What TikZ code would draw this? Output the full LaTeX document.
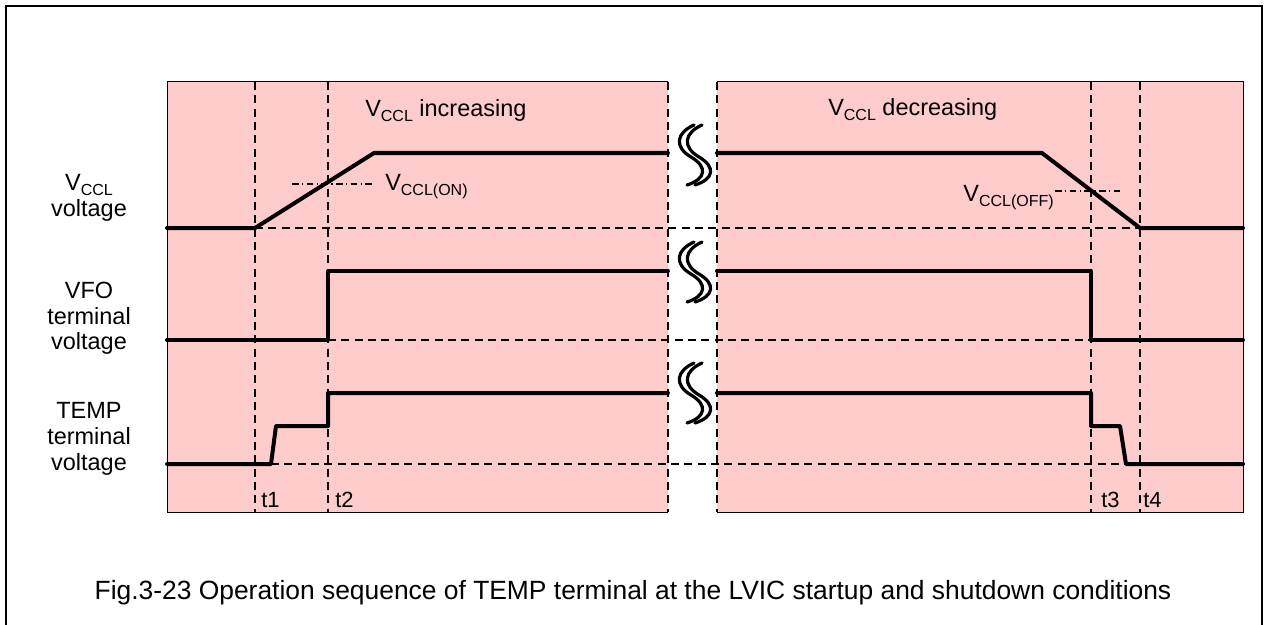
\documentclass[tikz,border=0pt]{standalone}
\usepackage{fontspec}
\setmainfont{Liberation Sans}
\definecolor{panelpink}{HTML}{FFCCCC}
\newcommand{\lowsub}[1]{\raisebox{-3.75pt}{\fontsize{12}{12}\selectfont #1}}
\begin{document}
\begin{tikzpicture}[x=0.75pt,y=-0.75pt,
  sig/.style={line width=3pt, line cap=round, line join=round},
  guide/.style={line width=0.9pt, dash pattern=on 6pt off 4pt},
  thr/.style={line width=0.9pt, dash pattern=on 5pt off 2.5pt on 1pt off 2.5pt},
  edge/.style={line width=0.75pt},
  lbl/.style={font=\fontsize{17.6}{20}\selectfont, inner sep=0pt},
  tlbl/.style={font=\fontsize{16.5}{18}\selectfont, inner sep=0pt, anchor=base west},
  figcap/.style={font=\fontsize{19.8}{23}\selectfont, inner sep=0pt, anchor=base},
  brk/.pic={
    \draw[line width=2.4pt, line cap=round]
      (2,-30) .. controls (-16,-22) and (-18,-8) .. (-1,2)
              .. controls (16,12) and (14,24) .. (-5,30);
    \draw[line width=2.4pt, line cap=round]
      (10,-30) .. controls (-8,-22) and (-10,-8) .. (7,2)
              .. controls (24,12) and (22,24) .. (3,30);
  }]
\useasboundingbox (0,0) rectangle (1269,624);

% outer frame (open at the lower edge of the sheet)
\draw[line width=1.7pt] (6,632) -- (6,6) -- (1262,6) -- (1262,632);

% the two time windows
\fill[panelpink] (167,82) rectangle (668,512);
\fill[panelpink] (717,82) rectangle (1243,512);
\draw[edge] (668,82) -- (167,82) -- (167,512) -- (668,512);
\draw[edge] (717,82) -- (1243,82) -- (1243,512) -- (717,512);
\draw[guide] (668,82) -- (668,512);
\draw[guide] (717,82) -- (717,512);

% time markers
\foreach \x in {255,328,1091,1140} \draw[guide] (\x,82) -- (\x,512);

% low-level reference lines
\draw[guide] (255,228) -- (1140,228);
\draw[guide] (328,340) -- (1091,340);
\draw[guide] (271,464) -- (1126,464);

% thresholds
\draw[thr] (292,184) -- (374,184);
\draw[thr] (1055,191) -- (1123,191);

% V_CCL
\draw[sig] (167,228) -- (255,228) -- (374,153) -- (668,153);
\draw[sig] (717,153) -- (1042,153) -- (1140,228) -- (1243,228);
% VFO
\draw[sig] (167,340) -- (328,340) -- (328,271) -- (668,271);
\draw[sig] (717,271) -- (1091,271) -- (1091,340) -- (1243,340);
% TEMP
\draw[sig] (167,464) -- (271,464) -- (276,426) -- (328,426) -- (328,393) -- (668,393);
\draw[sig] (717,393) -- (1091,393) -- (1091,426) -- (1120,426) -- (1126,464) -- (1243,464);

% time breaks
\pic at (692,155) {brk};
\pic at (692,272) {brk};
\pic at (692,393) {brk};

% window titles
\node[lbl, anchor=base west] (inc) at (365,117) {V\lowsub{CCL} increasing};
\node[lbl, anchor=base west] (dec) at (828,116) {V\lowsub{CCL} decreasing};
\node[lbl, anchor=base west] (von) at (385,190) {V\lowsub{CCL(ON)}};
\node[lbl, anchor=base east] (voff) at (1054,201) {V\lowsub{CCL(OFF)}};

% signal names
\node[lbl, anchor=base] (n1a) at (89,190) {V\lowsub{CCL}};
\node[lbl, anchor=base] (n1b) at (89,216) {voltage};
\node[lbl, anchor=base] (n2a) at (89,298) {VFO};
\node[lbl, anchor=base] (n2b) at (89,324) {terminal};
\node[lbl, anchor=base] (n2c) at (89,349) {voltage};
\node[lbl, anchor=base] (n3a) at (89,418) {TEMP};
\node[lbl, anchor=base] (n3b) at (89,444) {terminal};
\node[lbl, anchor=base] (n3c) at (89,470) {voltage};

% time labels
\node[tlbl] (t1) at (261,507) {t1};
\node[tlbl] (t2) at (335,507) {t2};
\node[tlbl] (t3) at (1101,507) {t3};
\node[tlbl] (t4) at (1143,507) {t4};

% caption
\node[figcap] (caption) at (633,599) {Fig.3-23 Operation sequence of TEMP terminal at the LVIC startup and shutdown conditions};
\end{tikzpicture}
\end{document}
